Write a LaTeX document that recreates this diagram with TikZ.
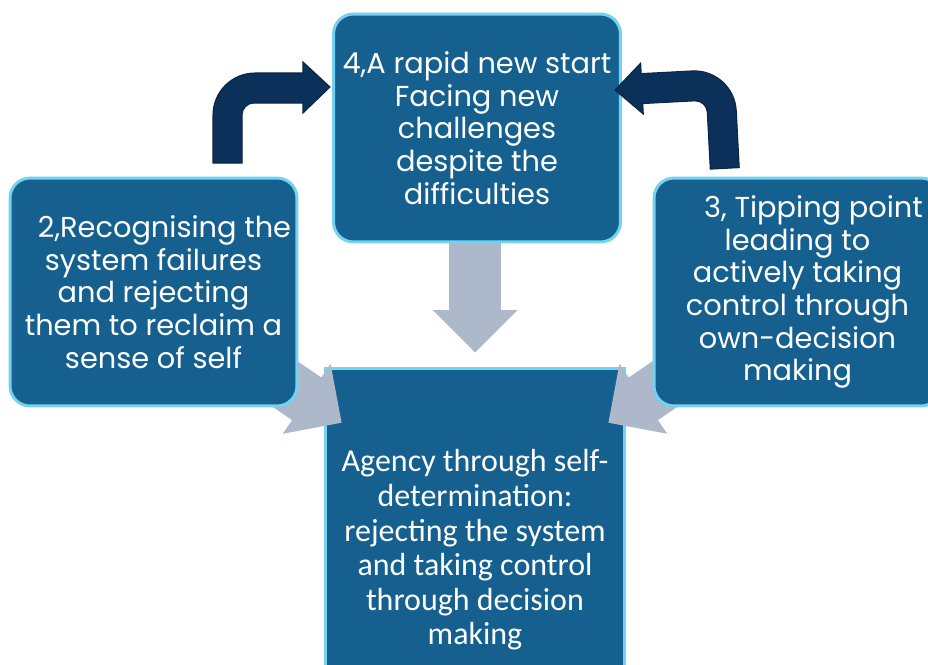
\documentclass[tikz,border=0pt]{standalone}
\usepackage{fontspec}
\setmainfont{Poppins}
\newfontfamily\bodyfont{Carlito}
\usetikzlibrary{shapes.arrows}

\definecolor{boxblue}{HTML}{15608F}
\definecolor{boxedge}{HTML}{72D2F0}
\definecolor{arrowgrey}{HTML}{ADB9CA}
\definecolor{arrownavy}{HTML}{0B3059}
\definecolor{navyedge}{HTML}{082744}

\tikzset{
  stage/.style = {fill = boxblue, draw = boxedge, line width = 1.7pt, rounded corners = 0.4cm,
    text = white, align = center, inner sep = 0, minimum width = 5.74cm, minimum height = 4.56cm,
    font = \fontsize{16.4}{18.6}\selectfont},
  push/.style = {single arrow, fill = arrowgrey, inner xsep = 0, inner ysep = 0.51cm,
    single arrow head extend = 0.33cm, minimum height = 2.8cm, anchor = tip},
  turn/.style = {fill = arrownavy, draw = navyedge, line width = 0.6pt}
}

\begin{document}
\begin{tikzpicture}[x = 0.02cm, y = 0.02cm]
    \clip (0, 0) rectangle (928, 664);

    % centre box, partly below the page
    \node [fill = boxblue, draw = boxedge, line width = 1.7pt, text = white, align = center,
      inner sep = 0, minimum width = 6cm, minimum height = 7.28cm,
      font = \bodyfont\fontsize{18.2}{19.7}\selectfont] (agency) at (475, 114)
      {Agency through self-\\ determination:\\ rejecting the system\\ and taking control\\ through decision\\ making};

    % grey arrows into the centre box
    \node [push, rotate = -90, minimum height = 2.6cm] (down) at (475, 311) {};
    \node [push, rotate = -34.4] (leftpush) at (342, 241) {};
    \node [push, rotate = -145.6] (rightpush) at (608, 241) {};

    \node [stage] (start) at (477, 536)
      {4,A rapid new start\\ Facing new\\ challenges\\ despite the\\ difficulties};
    \node [stage] (recognise) at (153.5, 372)
      {\hspace*{0.44cm}2,Recognising the\\ system failures\\ and rejecting\\ them to reclaim a\\ sense of self};
    \node [stage] (tipping) at (797.5, 372)
      {\hspace*{0.64cm}3, Tipping point\\ leading to\\ actively taking\\ control through\\ own-decision\\ making};

    % bent arrows up to the top box
    \draw [turn] (213, 501) -- (213, 549) arc [start angle = 180, end angle = 90, radius = 42]
    -- (303, 591) -- (303, 602) -- (330, 577) -- (303, 551) -- (303, 561)
    -- (254, 561) arc [start angle = 90, end angle = 180, radius = 12] -- (242, 501) -- cycle;

    \draw [turn, rotate around = {3:(615, 574)}] (615, 574) -- (642, 599.5) -- (642, 589) -- (693, 589)
    arc [start angle = 90, end angle = 0, radius = 42] -- (735, 490) -- (706, 490) -- (706, 547)
    arc [start angle = 0, end angle = 90, radius = 12] -- (642, 559) -- (642, 548.5) -- cycle;
\end{tikzpicture}
\end{document}
